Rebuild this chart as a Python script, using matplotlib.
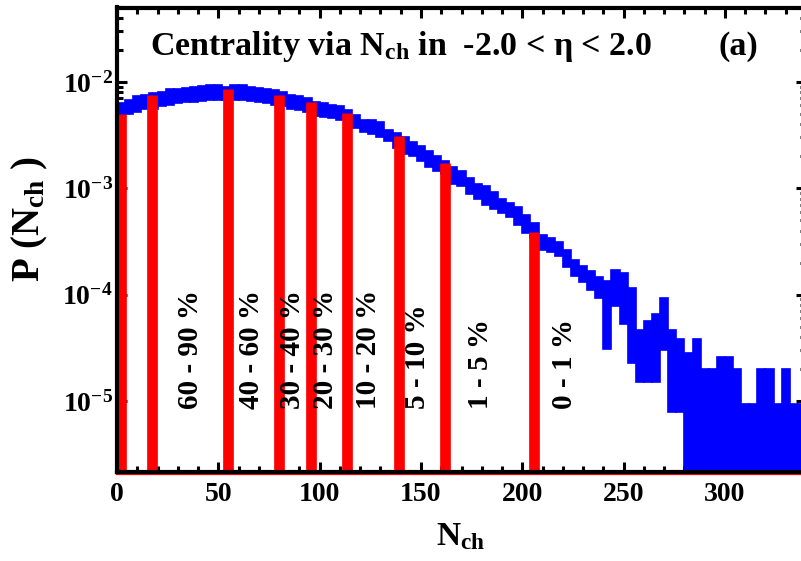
import numpy as np
import matplotlib
matplotlib.use("Agg")
import matplotlib.pyplot as plt
from matplotlib.ticker import MultipleLocator, LogLocator, NullFormatter, FixedLocator

# ---------------- data ----------------
bin_width = 4
nch_first_edge = 0
# upper / lower edge of the blue histogram band per bin (0 = reaches the axis)
p_hi = [6.3e-3, 6.7e-3, 7.3e-3, 7.6e-3, 7.8e-3, 8.1e-3, 8.5e-3, 8.6e-3, 8.8e-3, 9.0e-3,
        9.1e-3, 9.3e-3, 9.3e-3, 9.0e-3, 9.3e-3, 9.3e-3, 9.0e-3, 8.8e-3, 8.6e-3, 8.3e-3,
        8.0e-3, 7.6e-3, 7.3e-3, 7.0e-3, 6.5e-3, 6.3e-3, 6.0e-3, 5.9e-3, 5.4e-3, 4.85e-3,
        4.4e-3, 4.35e-3, 4.15e-3, 3.5e-3, 3.3e-3, 3.0e-3, 2.7e-3, 2.5e-3, 2.25e-3, 2.0e-3,
        1.8e-3, 1.6e-3, 1.45e-3, 1.25e-3, 1.1e-3, 1.05e-3, 9.3e-4, 8.0e-4, 7.2e-4, 6.6e-4,
        5.6e-4, 4.7e-4, 3.6e-4, 3.4e-4, 3.15e-4, 2.6e-4, 2.1e-4, 1.85e-4, 1.65e-4, 1.45e-4,
        1.35e-4, 1.7e-4, 1.6e-4, 1.15e-4, 4.6e-5, 5.6e-5, 6.6e-5, 9.2e-5, 4.6e-5, 3.8e-5,
        2.8e-5, 3.8e-5, 2.0e-5, 2.0e-5, 2.6e-5, 2.6e-5, 2.0e-5, 9.3e-6, 9.3e-6, 2.0e-5,
        2.0e-5, 9.3e-6, 2.0e-5, 9.3e-6, 9.3e-6]
p_lo = [4.65e-3, 4.95e-3, 5.2e-3, 5.5e-3, 5.6e-3, 5.9e-3, 6.0e-3, 6.3e-3, 6.4e-3, 6.5e-3,
        6.6e-3, 6.7e-3, 6.7e-3, 6.7e-3, 6.7e-3, 6.7e-3, 6.6e-3, 6.4e-3, 6.3e-3, 6.1e-3,
        5.9e-3, 5.6e-3, 5.4e-3, 5.2e-3, 4.8e-3, 4.65e-3, 4.55e-3, 4.35e-3, 4.0e-3, 3.7e-3,
        3.4e-3, 3.2e-3, 3.05e-3, 2.8e-3, 2.4e-3, 2.1e-3, 2.0e-3, 1.8e-3, 1.6e-3, 1.45e-3,
        1.35e-3, 1.1e-3, 1.05e-3, 8.9e-4, 8.0e-4, 7.0e-4, 6.4e-4, 5.9e-4, 5.4e-4, 4.5e-4,
        3.8e-4, 3.4e-4, 2.6e-4, 2.5e-4, 2.3e-4, 1.8e-4, 1.5e-4, 1.3e-4, 1.1e-4, 9.2e-5,
        3.1e-5, 7.8e-5, 5.3e-5, 2.3e-5, 1.5e-5, 1.5e-5, 1.5e-5, 3.0e-5, 7.8e-6, 7.8e-6,
        0, 0, 0, 0, 0, 0, 0, 0, 0, 0,
        0, 0, 0, 0, 0]

# centrality cuts (red bars)
cut_nch = [2, 17.5, 55, 80, 95.5, 113.5, 139, 162, 206]
cut_p = [5.0e-3, 7.6e-3, 8.6e-3, 7.5e-3, 6.5e-3, 5.1e-3, 3.1e-3, 1.72e-3, 3.86e-4]

class_labels = ["60 - 90 %", "40 - 60 %", "30 - 40 %", "20 - 30 %",
                "10 - 20 %", "5 - 10 %", "1 - 5 %", "0 - 1 %"]
label_nch = [36.5, 66.6, 86.6, 103, 124, 148.5, 179.6, 221]
label_p = 8.4e-6

x_ticks = [0, 50, 100, 150, 200, 250, 300]
x_range = (0, 340)
y_range = (2.15e-6, 5e-2)

# ---------------- style ----------------
plt.rcParams['font.family'] = ['Liberation Serif', 'DejaVu Serif']
plt.rcParams['font.weight'] = 'bold'
plt.rcParams['mathtext.fontset'] = 'custom'
plt.rcParams['mathtext.rm'] = 'Liberation Serif:bold'
plt.rcParams['mathtext.bf'] = 'Liberation Serif:bold'
plt.rcParams['mathtext.it'] = 'Liberation Serif:bold'
plt.rcParams['mathtext.default'] = 'bf'

fig = plt.figure(figsize=(8.01, 5.61), dpi=100)
ax = fig.add_axes([117 / 801, 89 / 561, 689 / 801, 464.5 / 561])
ax.set_yscale('log')
ax.set_xlim(*x_range)
ax.set_ylim(*y_range)

# blue histogram band
hi = np.array(p_hi)
lo = np.array(p_lo)
lo_eff = np.where(lo > 0, lo, y_range[0] * 0.5)
left = nch_first_edge + bin_width * np.arange(len(hi))
ax.bar(left, hi - lo_eff, bottom=lo_eff, width=bin_width, align='edge',
       color='#0000ff', edgecolor='#0000ff', linewidth=1.2, zorder=2)

# red centrality bars
ax.vlines(cut_nch, y_range[0] * 0.5, cut_p, colors='#ff0000', linewidth=7.7, zorder=3)
ax.plot([0, 1], [-0.004, -0.004], transform=ax.transAxes, color='#ff0000',
        lw=1.6, clip_on=False, zorder=1)

for xs, s in zip(label_nch, class_labels):
    ax.text(xs, label_p, s, rotation=90, ha='center', va='bottom',
            fontsize=21, fontweight='bold', zorder=4)

ax.text((150 - 117) / 689, (472 - 55) / 464.5,
        r'Centrality via N$_{\mathbf{ch}}$ in  -2.0 < η < 2.0',
        transform=ax.transAxes, fontsize=24.5, fontweight='bold', va='baseline', ha='left')
ax.text((718 - 117) / 689, (472 - 55) / 464.5, '(a)', transform=ax.transAxes,
        fontsize=24.5, fontweight='bold', va='baseline', ha='left')

# axes / ticks
ax.xaxis.set_major_locator(FixedLocator(x_ticks))
ax.xaxis.set_minor_locator(MultipleLocator(10))
ax.yaxis.set_major_locator(LogLocator(base=10, numticks=20))
ax.yaxis.set_minor_locator(LogLocator(base=10, subs=np.arange(2, 10), numticks=50))
ax.yaxis.set_minor_formatter(NullFormatter())
ax.tick_params(which='both', direction='in', top=True, right=True, width=2.2)
ax.tick_params(which='major', length=7, labelsize=20)
ax.tick_params(which='minor', length=4)
ax.tick_params(axis='x', which='major', pad=7)
ax.tick_params(axis='y', which='major', pad=3)
for sp in ax.spines.values():
    sp.set_linewidth(3)
    sp.set_zorder(5)

fig.text(30 / 801, 1 - 219 / 561, r'P (N$_{\mathbf{ch}}$ )', rotation=90,
         ha='center', va='center', fontsize=28, fontweight='bold')
fig.text(461 / 801, 1 - 537 / 561, r'N$_{\mathbf{ch}}$', ha='center', va='center',
         fontsize=24, fontweight='bold')

fig.savefig('out.png', dpi=100)
